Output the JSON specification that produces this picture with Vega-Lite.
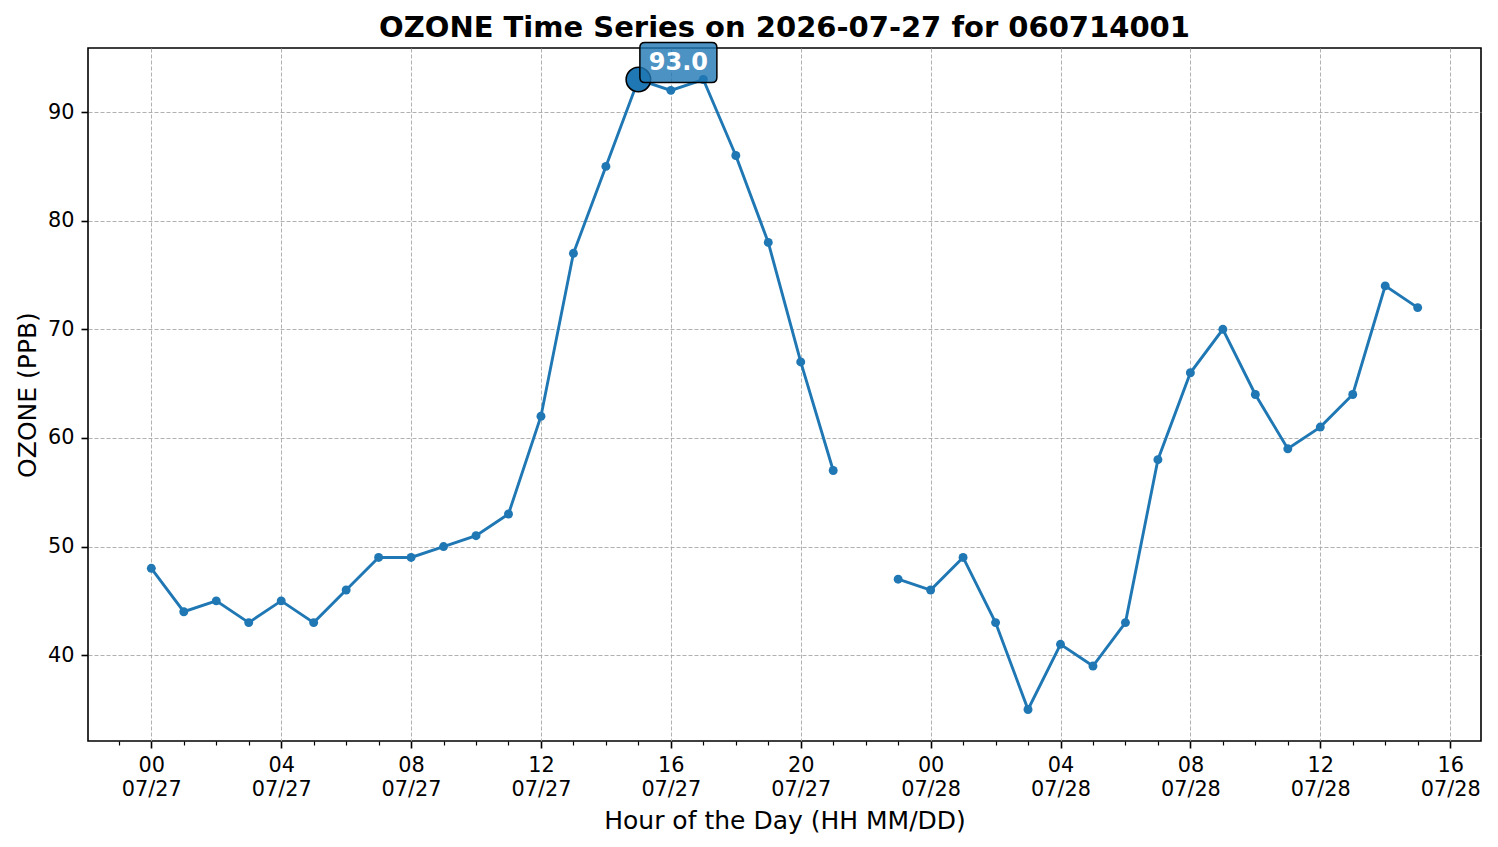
{
  "$schema": "https://vega.github.io/schema/vega-lite/v6.json",
  "width": 1393,
  "height": 693,
  "autosize": {"type": "none"},
  "padding": {"left": 88, "top": 48, "right": 17, "bottom": 106},
  "background": "white",
  "config": {
    "font": "DejaVu Sans",
    "view": {"stroke": "black", "strokeWidth": 1.6},
    "axis": {
      "labelFont": "DejaVu Sans",
      "titleFont": "DejaVu Sans",
      "labelColor": "black",
      "titleColor": "black",
      "tickColor": "black",
      "domain": false,
      "gridColor": "#a8a8a8",
      "gridDash": [4, 2],
      "gridWidth": 0.9,
      "titleFontWeight": "normal"
    }
  },
  "title": {
    "text": "OZONE Time Series on 2026-07-27 for 060714001",
    "font": "DejaVu Sans",
    "fontSize": 29,
    "fontWeight": "bold",
    "color": "black",
    "anchor": "middle",
    "frame": "group",
    "offset": 6,
    "dy": 10
  },
  "data": {
    "values": [
      {"time": "2026-07-27T00:00:00Z", "ozone": 48},
      {"time": "2026-07-27T01:00:00Z", "ozone": 44},
      {"time": "2026-07-27T02:00:00Z", "ozone": 45},
      {"time": "2026-07-27T03:00:00Z", "ozone": 43},
      {"time": "2026-07-27T04:00:00Z", "ozone": 45},
      {"time": "2026-07-27T05:00:00Z", "ozone": 43},
      {"time": "2026-07-27T06:00:00Z", "ozone": 46},
      {"time": "2026-07-27T07:00:00Z", "ozone": 49},
      {"time": "2026-07-27T08:00:00Z", "ozone": 49},
      {"time": "2026-07-27T09:00:00Z", "ozone": 50},
      {"time": "2026-07-27T10:00:00Z", "ozone": 51},
      {"time": "2026-07-27T11:00:00Z", "ozone": 53},
      {"time": "2026-07-27T12:00:00Z", "ozone": 62},
      {"time": "2026-07-27T13:00:00Z", "ozone": 77},
      {"time": "2026-07-27T14:00:00Z", "ozone": 85},
      {"time": "2026-07-27T15:00:00Z", "ozone": 93},
      {"time": "2026-07-27T16:00:00Z", "ozone": 92},
      {"time": "2026-07-27T17:00:00Z", "ozone": 93},
      {"time": "2026-07-27T18:00:00Z", "ozone": 86},
      {"time": "2026-07-27T19:00:00Z", "ozone": 78},
      {"time": "2026-07-27T20:00:00Z", "ozone": 67},
      {"time": "2026-07-27T21:00:00Z", "ozone": 57},
      {"time": "2026-07-27T22:00:00Z", "ozone": null},
      {"time": "2026-07-27T23:00:00Z", "ozone": 47},
      {"time": "2026-07-28T00:00:00Z", "ozone": 46},
      {"time": "2026-07-28T01:00:00Z", "ozone": 49},
      {"time": "2026-07-28T02:00:00Z", "ozone": 43},
      {"time": "2026-07-28T03:00:00Z", "ozone": 35},
      {"time": "2026-07-28T04:00:00Z", "ozone": 41},
      {"time": "2026-07-28T05:00:00Z", "ozone": 39},
      {"time": "2026-07-28T06:00:00Z", "ozone": 43},
      {"time": "2026-07-28T07:00:00Z", "ozone": 58},
      {"time": "2026-07-28T08:00:00Z", "ozone": 66},
      {"time": "2026-07-28T09:00:00Z", "ozone": 70},
      {"time": "2026-07-28T10:00:00Z", "ozone": 64},
      {"time": "2026-07-28T11:00:00Z", "ozone": 59},
      {"time": "2026-07-28T12:00:00Z", "ozone": 61},
      {"time": "2026-07-28T13:00:00Z", "ozone": 64},
      {"time": "2026-07-28T14:00:00Z", "ozone": 74},
      {"time": "2026-07-28T15:00:00Z", "ozone": 72}
    ]
  },
  "encoding": {
    "x": {
      "field": "time",
      "type": "temporal",
      "scale": {"type": "utc", "nice": false, "domain": [1785103380000, 1785257820000]},
      "axis": {
        "values": [1785106800000, 1785110400000, 1785114000000, 1785117600000, 1785121200000, 1785124800000, 1785128400000, 1785132000000, 1785135600000, 1785139200000, 1785142800000, 1785146400000, 1785150000000, 1785153600000, 1785157200000, 1785160800000, 1785164400000, 1785168000000, 1785171600000, 1785175200000, 1785178800000, 1785182400000, 1785186000000, 1785189600000, 1785193200000, 1785196800000, 1785200400000, 1785204000000, 1785207600000, 1785211200000, 1785214800000, 1785218400000, 1785222000000, 1785225600000, 1785229200000, 1785232800000, 1785236400000, 1785240000000, 1785243600000, 1785247200000, 1785250800000, 1785254400000],
        "labelExpr": "utchours(datum.value) % 4 == 0 ? [utcFormat(datum.value, '%H'), utcFormat(datum.value, '%m/%d')] : ''",
        "labelFontSize": 20.8,
        "labelLineHeight": 24,
        "labelPadding": 7,
        "labelFlush": false,
        "labelOverlap": false,
        "tickSize": {"condition": {"test": "utchours(datum.value) % 4 == 0", "value": 7}, "value": 4},
        "tickWidth": {"condition": {"test": "utchours(datum.value) % 4 == 0", "value": 1.6}, "value": 1.2},
        "grid": true,
        "gridOpacity": {"condition": {"test": "utchours(datum.value) % 4 == 0", "value": 1}, "value": 0},
        "title": "Hour of the Day (HH MM/DD)",
        "titleFontSize": 25,
        "titlePadding": 10
      }
    },
    "y": {
      "field": "ozone",
      "type": "quantitative",
      "scale": {"domain": [32.1, 95.9], "nice": false, "zero": false},
      "axis": {
        "values": [40, 50, 60, 70, 80, 90],
        "labelFontSize": 20.8,
        "labelPadding": 7,
        "tickSize": 7,
        "tickWidth": 1.6,
        "grid": true,
        "title": "OZONE (PPB)",
        "titleFontSize": 25,
        "titlePadding": 7
      }
    }
  },
  "layer": [
    {
      "mark": {"type": "line", "color": "#1f77b4", "strokeWidth": 2.9}
    },
    {
      "transform": [{"filter": "isValid(datum.ozone)"}],
      "mark": {"type": "point", "filled": true, "color": "#1f77b4", "size": 80, "opacity": 1}
    },
    {
      "transform": [
        {"filter": "isValid(datum.ozone)"},
        {"joinaggregate": [{"op": "max", "field": "ozone", "as": "mx"}]},
        {"filter": "datum.ozone == datum.mx"},
        {"window": [{"op": "row_number", "as": "rn"}], "sort": [{"field": "time"}]},
        {"filter": "datum.rn == 1"}
      ],
      "layer": [
        {
          "mark": {"type": "point", "filled": true, "fill": "#1f77b4", "stroke": "black", "strokeWidth": 1.6, "size": 600, "opacity": 1}
        },
        {
          "mark": {
            "type": "point",
            "shape": "M -0.87 -0.52 L 0.87 -0.52 Q 1 -0.52 1 -0.39 L 1 0.39 Q 1 0.52 0.87 0.52 L -0.87 0.52 Q -1 0.52 -1 0.39 L -1 -0.39 Q -1 -0.52 -0.87 -0.52 Z",
            "size": 5929,
            "filled": true,
            "fill": "#1f77b4",
            "fillOpacity": 0.8,
            "stroke": "black",
            "strokeWidth": 1.5,
            "opacity": 1,
            "xOffset": 40,
            "yOffset": -17
          }
        },
        {
          "mark": {
            "type": "text",
            "font": "DejaVu Sans",
            "fontSize": 24,
            "fontWeight": "bold",
            "color": "white",
            "align": "center",
            "baseline": "middle",
            "dx": 40,
            "dy": -17
          },
          "encoding": {
            "text": {"field": "ozone", "type": "quantitative", "format": ".1f"}
          }
        }
      ]
    }
  ]
}
